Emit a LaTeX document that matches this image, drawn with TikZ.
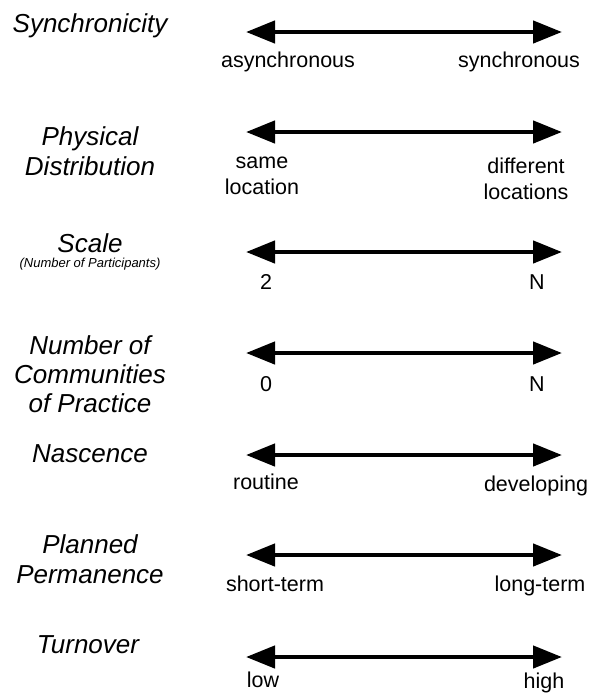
\documentclass[tikz,border=0pt]{standalone}
\usepackage{fontspec}
\setmainfont{Liberation Sans}
\usetikzlibrary{arrows.meta}

\tikzset{
  dimension/.style={font=\itshape\fontsize{26}{30}\selectfont, align=center, inner sep=0pt},
  dimnote/.style={font=\itshape\fontsize{13}{15}\selectfont, inner sep=0pt},
  pole/.style={font=\fontsize{21.5}{26}\selectfont, align=center, inner sep=0pt},
  spectrum/.style={line width=4.5pt,
    {Triangle[length=29pt,width=22pt]}-{Triangle[length=29pt,width=22pt]}}
}

\begin{document}
\begin{tikzpicture}[x=1pt, y=-1pt]
        \useasboundingbox (0,0) rectangle (590,694);

        % synchronicity
        \node[dimension] (sync) at (90,26) {Synchronicity};
        \coordinate (syncL) at (246,32);
        \coordinate (syncR) at (562,32);
        \draw[spectrum] (syncL) -- (syncR);
        \node[pole] (syncA) at (288,62) {asynchronous};
        \node[pole] (syncB) at (519,62) {synchronous};

        % physical distribution
        \node[dimension] (dist) at (90,151) {Physical\\Distribution};
        \coordinate (distL) at (246,132);
        \coordinate (distR) at (562,132);
        \draw[spectrum] (distL) -- (distR);
        \node[pole] (distA) at (262,176) {same\\location};
        \node[pole] (distB) at (526,179) {different\\locations};

        % scale
        \node[dimension] (scale) at (90,243) {Scale};
        \node[dimnote] (scalenote) at (90,264) {(Number of Participants)};
        \coordinate (scaleL) at (246,252);
        \coordinate (scaleR) at (562,252);
        \draw[spectrum] (scaleL) -- (scaleR);
        \node[pole] (scaleA) at (266,282) {2};
        \node[pole] (scaleB) at (537,282) {N};

        % communities of practice
        \node[dimension, font=\itshape\fontsize{26}{29}\selectfont] (comm) at (90,374)
                {Number of\\Communities\\of Practice};
        \coordinate (commL) at (246,353);
        \coordinate (commR) at (562,353);
        \draw[spectrum] (commL) -- (commR);
        \node[pole] (commA) at (266,384) {0};
        \node[pole] (commB) at (537,384) {N};

        % nascence
        \node[dimension] (nasc) at (90,454) {Nascence};
        \coordinate (nascL) at (246,455);
        \coordinate (nascR) at (562,455);
        \draw[spectrum] (nascL) -- (nascR);
        \node[pole] (nascA) at (266,482) {routine};
        \node[pole] (nascB) at (536,486) {developing};

        % planned permanence
        \node[dimension] (perm) at (90,559) {Planned\\Permanence};
        \coordinate (permL) at (246,555);
        \coordinate (permR) at (562,555);
        \draw[spectrum] (permL) -- (permR);
        \node[pole] (permA) at (275,584) {short-term};
        \node[pole] (permB) at (540,586) {long-term};

        % turnover
        \node[dimension] (turn) at (88,645) {Turnover};
        \coordinate (turnL) at (246,657);
        \coordinate (turnR) at (562,657);
        \draw[spectrum] (turnL) -- (turnR);
        \node[pole] (turnA) at (263,680) {low};
        \node[pole] (turnB) at (544,683) {high};
\end{tikzpicture}
\end{document}
